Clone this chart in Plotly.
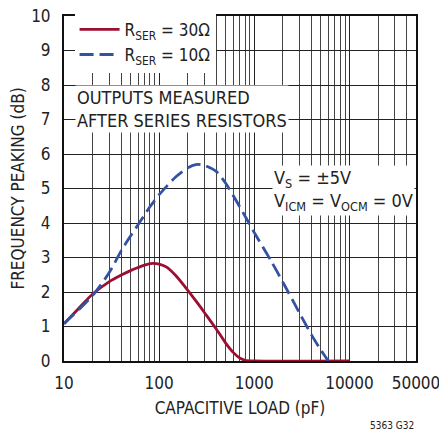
import plotly.graph_objects as go

# datos
cap_30 = [10, 14, 20, 30, 40, 50, 60, 70, 85, 100, 120, 150, 200, 250, 300, 400, 500, 600, 700, 800, 1000, 10000]
peak_30 = [1.08, 1.5, 1.94, 2.3, 2.49, 2.62, 2.71, 2.78, 2.83, 2.81, 2.72, 2.47, 2.05, 1.7, 1.4, 0.92, 0.52, 0.25, 0.09, 0.02, 0.0, 0.0]

cap_10 = [10, 20, 30, 40, 50, 60, 70, 80, 100, 150, 200, 250, 300, 400, 500, 700, 1000, 1500, 2000, 3000, 4000, 5000, 6000]
peak_10 = [1.08, 1.9, 2.57, 3.2, 3.62, 3.95, 4.23, 4.47, 4.82, 5.34, 5.6, 5.7, 5.67, 5.49, 5.15, 4.48, 3.72, 2.9, 2.28, 1.38, 0.75, 0.32, 0.0]

x_ticks = [10, 100, 1000, 10000, 50000]
x_minor = [m * 10 ** e for e in range(1, 5) for m in range(2, 10) if m * 10 ** e <= 50000]

fuente = "DejaVu Sans Condensed, Liberation Sans Narrow, Arial Narrow, sans-serif"

fig = go.Figure()
fig.add_trace(go.Scatter(x=cap_30, y=peak_30, mode="lines", name="R<sub>SER</sub> = 30Ω",
                         line=dict(color="#9b0f32", width=2.8, shape="spline", smoothing=0.7)))
fig.add_trace(go.Scatter(x=cap_10, y=peak_10, mode="lines", name="R<sub>SER</sub> = 10Ω",
                         line=dict(color="#3352a3", width=2.8, dash="14px,6px", shape="spline", smoothing=0.7)))

fig.update_layout(
    width=439, height=433,
    margin=dict(l=64, r=23, t=13, b=72),
    paper_bgcolor="white", plot_bgcolor="white",
    font=dict(family=fuente, size=17, color="#222"),
    legend=dict(x=0.03, y=1.012, xanchor="left", yanchor="top", bgcolor="white",
                font=dict(size=17), tracegroupgap=0, itemwidth=40),
    showlegend=True,
)
fig.update_xaxes(
    type="log", range=[1, 4.69897], automargin=False,
    tickvals=x_ticks, ticktext=[str(v) for v in x_ticks], ticks="", ticklabelstandoff=6,
    ticklabeloverflow="allow",
    showgrid=True, gridcolor="#222", gridwidth=1,
    minor=dict(tickvals=x_minor, showgrid=True, gridcolor="#444", gridwidth=1, ticks=""),
    showline=True, linecolor="#111", linewidth=2, mirror=True,
    title=dict(text="CAPACITIVE LOAD (pF)", font=dict(size=17), standoff=10),
    zeroline=False,
)
fig.update_yaxes(
    range=[0, 10], dtick=1, ticks="", ticklabelstandoff=8, automargin=False,
    ticklabeloverflow="allow",
    showgrid=True, gridcolor="#222", gridwidth=1,
    showline=True, linecolor="#111", linewidth=2, mirror=True,
    title=dict(text="FREQUENCY PEAKING (dB)", font=dict(size=17), standoff=2),
    zeroline=False,
)

fig.add_annotation(x=0.031, y=0.8, xref="paper", yref="paper", xanchor="left", yanchor="top",
                   text="OUTPUTS MEASURED<br>AFTER SERIES RESISTORS", showarrow=False, align="left",
                   bgcolor="white", font=dict(size=18))
fig.add_annotation(x=0.59, y=0.569, xref="paper", yref="paper", xanchor="left", yanchor="top",
                   text="V<sub>S</sub> = ±5V<br>V<sub>ICM</sub> = V<sub>OCM</sub> = 0V", showarrow=False,
                   align="left", bgcolor="white", font=dict(size=18))
fig.add_annotation(x=1.0, y=-0.164, xref="paper", yref="paper", xanchor="right", yanchor="top",
                   text="5363 G32", showarrow=False, font=dict(size=10))

# quitar el margen del body para que la figura ocupe la ventana sin barras de scroll
fig.write_html("out.html", config={"displayModeBar": False}, post_script=(
    "document.body.style.margin='0';"
    "document.body.style.overflow='hidden';"
    "document.documentElement.style.overflow='hidden';"))
